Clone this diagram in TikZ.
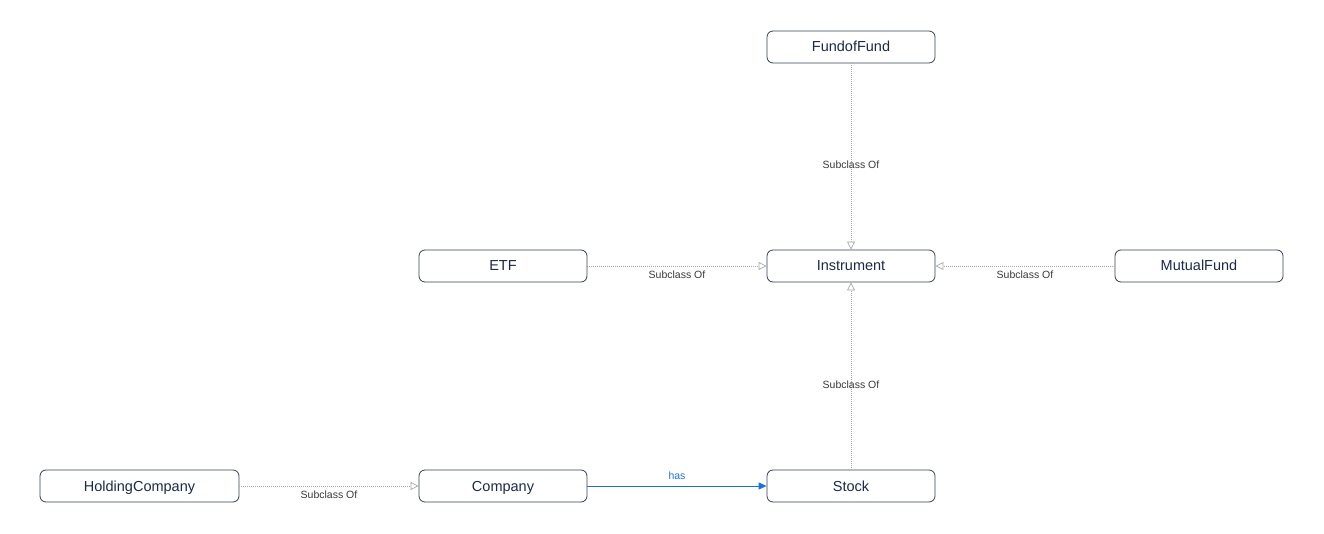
\documentclass[tikz,border=0pt]{standalone}
\usepackage{fontspec}
\setmainfont{Liberation Sans}
\usetikzlibrary{arrows.meta}
\definecolor{nodetext}{HTML}{1B2A4A}
\definecolor{nodeedge}{HTML}{34405A}
\definecolor{subgray}{HTML}{A8A8A8}
\definecolor{labgray}{HTML}{3A3A3A}
\definecolor{hasblue}{HTML}{1A73D9}
\begin{document}
\begin{tikzpicture}[x=1pt,y=-1pt,
  cls/.style={draw=nodeedge, line width=0.8pt, rounded corners=6pt, minimum height=32pt, minimum width=168pt, inner sep=0pt, text height=12pt, text depth=2pt, text=nodetext, font=\fontsize{14.5}{16}\selectfont, fill=white},
  subof/.style={draw=subgray, line width=0.7pt, dash pattern=on 1pt off 1pt, -{Triangle[open, length=8pt, width=8pt, line width=0.7pt, fill=white]}},
  sublab/.style={text=labgray, font=\fontsize{10.5}{12}\selectfont, inner sep=1pt, text height=9pt, text depth=1.5pt},
  hasedge/.style={draw=hasblue, line width=1pt, -{Triangle[length=8pt, width=7pt]}},
  haslab/.style={text=hasblue, font=\fontsize{10.5}{12}\selectfont, inner sep=1pt, text height=9pt, text depth=1.5pt}]
\useasboundingbox (0,0) rectangle (1324,534);
\node[cls] (fof) at (851,47) {FundofFund};
\node[cls] (inst) at (851,266) {Instrument};
\node[cls] (etf) at (503,266) {ETF};
\node[cls] (mf) at (1199,266) {MutualFund};
\node[cls, minimum width=199pt] (hold) at (139.5,486) {HoldingCompany};
\node[cls] (comp) at (503,486) {Company};
\node[cls] (stock) at (851,486) {Stock};
\draw[subof] (fof) -- (inst);
\draw[subof] (etf) -- (inst);
\draw[subof] (mf) -- (inst);
\draw[subof] (stock) -- (inst);
\draw[subof] (hold) -- (comp);
\draw[hasedge] (comp) -- (stock);
\node[sublab] (l1) at (851,165) {Subclass Of};
\node[sublab] (l2) at (677,275) {Subclass Of};
\node[sublab] (l3) at (1025,275) {Subclass Of};
\node[sublab] (l4) at (851,385) {Subclass Of};
\node[sublab] (l5) at (329,495) {Subclass Of};
\node[haslab] (l6) at (677,476) {has};
\end{tikzpicture}
\end{document}
